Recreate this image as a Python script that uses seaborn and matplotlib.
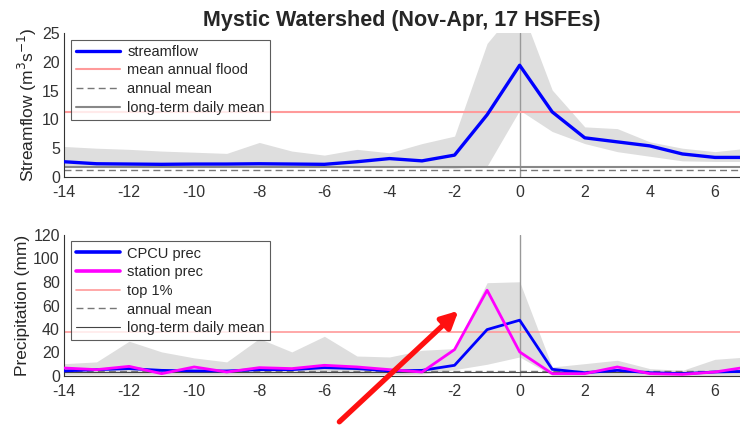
import numpy as np
import pandas as pd
import matplotlib
matplotlib.use("Agg")
import matplotlib.pyplot as plt
import seaborn as sns

sns.set_style("white")
plt.rcParams['font.family'] = ['Liberation Sans', 'DejaVu Sans']
plt.rcParams['axes.unicode_minus'] = False

days = list(range(-14, 8))
streamflow = [2.65, 2.3, 2.25, 2.2, 2.25, 2.25, 2.3, 2.25, 2.2, 2.65, 3.2, 2.8, 3.8,
              10.8, 19.4, 11.3, 6.8, 6.1, 5.4, 4.0, 3.4, 3.4]
sf_upper = [5.3, 5.0, 4.8, 4.5, 4.3, 4.1, 6.0, 4.5, 3.8, 4.8, 4.2, 5.8, 7.1,
            23.2, 30.0, 15.1, 8.7, 8.4, 6.1, 5.0, 4.4, 5.0]
sf_lower = [1.7, 1.7, 1.7, 1.7, 1.7, 1.7, 1.7, 1.7, 1.7, 1.7, 1.7, 1.6, 1.5,
            1.9, 11.6, 7.9, 5.8, 4.4, 3.6, 2.8, 2.7, 2.7]
sf_flood = 11.3
sf_annual_mean = 1.2
sf_daily_mean = 1.7

cpcu = [4.3, 5.4, 6.3, 4.8, 4.3, 4.3, 5.4, 5.4, 7.1, 6.3, 4.3, 4.8, 9.1,
        39.5, 47.5, 5.7, 2.8, 4.8, 2.8, 2.0, 3.4, 4.0]
station = [6.8, 5.4, 8.2, 2.0, 7.7, 3.4, 7.1, 6.3, 9.1, 7.7, 5.4, 3.4, 22.5,
           73.0, 20.5, 2.0, 2.0, 7.7, 2.0, 1.4, 3.4, 7.7]
pr_upper = [10.5, 12.0, 29.6, 20.5, 15.4, 12.0, 31.9, 20.5, 33.8, 17.0, 16.2, 21.9, 23.3,
            79.4, 80.2, 7.7, 10.5, 13.4, 6.3, 4.8, 14.2, 16.2]
pr_lower = [1.0, 1.0, 1.0, 1.0, 1.0, 1.0, 1.0, 1.0, 1.0, 1.0, 1.0, 1.5, 5.4,
            10.0, 16.2, 0.5, 0.5, 0.5, 0.5, 0.5, 0.5, 0.5]
pr_top1 = 37.5
pr_annual_mean = 4.0
pr_daily_mean = 3.0

title = "Mystic Watershed (Nov-Apr, 17 HSFEs)"
xticks = list(range(-14, 7, 2))

sf_df = pd.DataFrame({"day": days, "streamflow": streamflow})
pr_df = pd.DataFrame({"day": days, "CPCU prec": cpcu, "station prec": station})

fig = plt.figure(figsize=(7.4, 4.28), dpi=100)
ax1 = fig.add_axes([64/740, 1-177/428, 1-64/740, 144/428])
ax2 = fig.add_axes([64/740, 1-376/428, 1-64/740, 141/428])

band_c = '#dedede'
flood_c = '#ff9a9a'
xmax = 6.77

legend_kw = dict(loc='upper left', bbox_to_anchor=(0.006, 0.975), fontsize=10.5,
                 frameon=True, fancybox=False, edgecolor='#333333', handlelength=3.0,
                 borderpad=0.35, labelspacing=0.32, handletextpad=0.5, borderaxespad=0.2)

# --- top panel
ax1.fill_between(days, sf_lower, sf_upper, color=band_c, lw=0, zorder=1)
ax1.axvline(0, color='#999999', lw=1, zorder=2)
ax1.axhline(sf_flood, color=flood_c, lw=1.5, zorder=2, label='mean annual flood')
ax1.axhline(sf_annual_mean, color='#777777', lw=1, ls=(0, (5, 3)), zorder=2, label='annual mean')
ax1.axhline(sf_daily_mean, color='#888888', lw=1.5, zorder=2, label='long-term daily mean')
sns.lineplot(data=sf_df, x="day", y="streamflow", ax=ax1, color='#0000ff', lw=2.4,
             zorder=3, label='streamflow')
h, l = ax1.get_legend_handles_labels()
order = [l.index(s) for s in ['streamflow', 'mean annual flood', 'annual mean', 'long-term daily mean']]
leg = ax1.legend([h[i] for i in order], [l[i] for i in order], **legend_kw)
leg.get_frame().set_linewidth(0.8)
ax1.set_ylim(0, 25)
ax1.set_yticks([0, 5, 10, 15, 20, 25])
ax1.set_ylabel('Streamflow (m$^3$s$^{-1}$)', fontsize=12.5, labelpad=2)

# --- bottom panel
ax2.fill_between(days, pr_lower, pr_upper, color=band_c, lw=0, zorder=1)
ax2.axvline(0, color='#999999', lw=1, zorder=2)
ax2.axhline(pr_top1, color=flood_c, lw=1.2, zorder=2, label='top 1%')
ax2.axhline(pr_annual_mean, color='#777777', lw=1, ls=(0, (5, 3)), zorder=2, label='annual mean')
ax2.axhline(pr_daily_mean, color='#444444', lw=0.8, zorder=2, label='long-term daily mean')
pr_long = pr_df.melt(id_vars="day", var_name="source", value_name="prec")
sns.lineplot(data=pr_long, x="day", y="prec", hue="source", ax=ax2,
             palette={'CPCU prec': '#0000ff', 'station prec': '#ff00ff'}, lw=2, zorder=3)
h, l = ax2.get_legend_handles_labels()
order = [l.index(s) for s in ['CPCU prec', 'station prec', 'top 1%', 'annual mean', 'long-term daily mean']]
handles = [h[i] for i in order]
for hh in handles[:2]:
    hh.set_linewidth(2.6)
leg = ax2.legend(handles, [l[i] for i in order], **legend_kw)
leg.get_frame().set_linewidth(0.8)
ax2.set_ylim(0, 120)
ax2.set_yticks(range(0, 121, 20))
ax2.set_ylabel('Precipitation (mm)', fontsize=12.5, labelpad=2)

for ax in (ax1, ax2):
    ax.set_xlim(-14, xmax)
    ax.set_xticks(xticks)
    ax.set_xlabel('')
    ax.tick_params(direction='in', length=4, labelsize=11.5, colors='#222222',
                   labelcolor='#333333', top=False, right=False)
    ax.tick_params(axis='x', pad=6)
    ax.tick_params(axis='y', pad=3)
    for s in ('top', 'right'):
        ax.spines[s].set_visible(False)
    for s in ('left', 'bottom'):
        ax.spines[s].set_color('#333333')
        ax.spines[s].set_linewidth(0.8)
    ax.set_facecolor('white')

ax1.set_title(title, fontsize=15.5, fontweight='bold', pad=5)

ax2.annotate('', xy=(-1.88, 55.5), xytext=(-5.54, -39), xycoords='data',
             annotation_clip=False,
             arrowprops=dict(arrowstyle='-|>,head_length=1.0,head_width=0.5',
                             color='#ff1010', lw=3.8, shrinkA=0, shrinkB=0))

fig.savefig('out.png', dpi=100)
